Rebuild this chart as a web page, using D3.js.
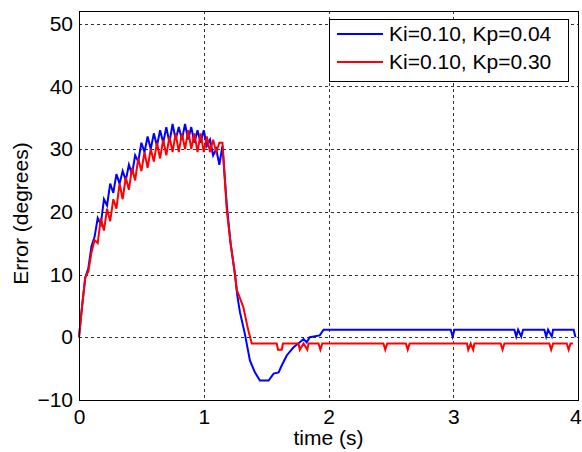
<!DOCTYPE html>
<html><head><meta charset="utf-8">
<script src="https://cdn.jsdelivr.net/npm/d3@7"></script>
<style>
html,body{margin:0;padding:0;background:#fff;}
text{font-family:"Liberation Sans",Arial,sans-serif;fill:#000;}
</style></head>
<body>
<svg id="c" width="582" height="452"></svg>
<script>
// ---- data ----
const xTicks = [0, 1, 2, 3, 4];
const yTicks = [-10, 0, 10, 20, 30, 40, 50];
const legendLabels = ["Ki=0.10, Kp=0.04", "Ki=0.10, Kp=0.30"];
const seriesColors = ["#0000ff", "#ff0000"];

const riseT = [0,0.025,0.05,0.075,0.1,0.125,0.15,0.175,0.2,0.225,0.25,0.275,0.3,0.325,0.35,0.375,0.4,0.425,0.45,0.475,0.5,0.525,0.55,0.575,0.6,0.625,0.65,0.675,0.7,0.725,0.75,0.775,0.8,0.825,0.85,0.875,0.9,0.925,0.95,0.975,1.0,1.025,1.05,1.075,1.1,1.125,1.15];
const blueRise = [0,5,9.5,11,14.5,16,19,18,22,21,24.5,23,26,24.5,26.5,25,27.5,26,29,28,31,29.5,32,30,32.5,30.5,33,31,33.5,31,34,31.5,33.5,31.5,34,31.5,33.5,31,33,31,33,30.5,31.5,29,30,27.5,30.5];
const redRise  = [0,5,9.5,10.5,13.5,15.5,15,19,17,20.5,18.5,22,20.5,24.5,22,25.5,23.5,27,25,28.5,26.5,29.5,27,30,28,31,28.5,31.5,29,32,29.5,32.5,29.5,32.5,30,33,30,32.5,29.5,32.5,29.5,32,29.5,31.5,29.5,31,31];

const blueTailT = [1.185,1.215,1.25,1.27,1.29,1.33,1.37,1.41,1.45,1.52,1.56,1.6,1.625,1.665,1.72,1.77,1.8,1.825,1.85,1.93,1.96,2.98,2.995,3.01,3.49,3.505,3.52,3.545,3.56,3.73,3.745,3.76,3.79,3.8,3.965,3.98];
const blueTailV = [21,15,10,6.5,4,0.5,-3.7,-5.6,-6.9,-6.9,-5.8,-5.6,-4.5,-2.9,-1.6,-0.8,-0.3,-0.8,0,0.3,1.2,1.2,0.1,1.2,1.2,0.1,1.2,0.1,1.2,1.2,0.1,1.2,0.1,1.2,1.2,0];

const redTailT = [1.185,1.215,1.25,1.265,1.285,1.317,1.357,1.385,1.585,1.595,1.625,1.635,1.76,1.77,1.8,1.83,1.84,1.92,1.935,1.95,2.44,2.455,2.47,2.62,2.635,2.65,3.11,3.12,3.14,3.16,3.17,3.38,3.395,3.41,3.77,3.785,3.8,3.91,3.925,3.94,3.96];
const redTailV = [20.2,15,10.2,7.5,6.5,4.8,1.1,-1,-1,-2,-2,-1,-1,-2,-1,-2,-1,-1,-2,-1,-1,-2,-1,-1,-2,-1,-1,-2,-1,-2,-1,-1,-2,-1,-1,-2,-1,-1,-2,-1,-1];

// ---- layout ----
const svg = d3.select("#c");
const L = 79, R = 578, T = 11, B = 400;
const x = d3.scaleLinear().domain([0, 4]).range([L, R]);
const y = d3.scaleLinear().domain([-10, 52]).range([B, T]);

// grid
const grid = svg.append("g").attr("stroke", "#333").attr("stroke-width", 1).attr("stroke-dasharray", "3,3");
xTicks.filter(d => d > 0 && d < 4).forEach(d => {
  grid.append("line").attr("x1", Math.round(x(d)) + 0.5).attr("x2", Math.round(x(d)) + 0.5).attr("y1", T).attr("y2", B);
});
yTicks.filter(d => d > -10).forEach(d => {
  grid.append("line").attr("x1", L).attr("x2", R).attr("y1", Math.round(y(d)) + 0.5).attr("y2", Math.round(y(d)) + 0.5);
});

// axes via d3
const xAxis = d3.axisBottom(x).tickValues(xTicks).tickSize(0).tickPadding(9).tickFormat(d3.format("d"));
const yAxis = d3.axisLeft(y).tickValues(yTicks).tickSize(0).tickPadding(6).tickFormat(d3.format("d"));
const gx = svg.append("g").attr("transform", `translate(0,${B})`).call(xAxis);
const gy = svg.append("g").attr("transform", `translate(${L},0)`).call(yAxis);
[gx, gy].forEach(g => {
  g.select(".domain").remove();
  g.selectAll("text").attr("font-size", 21).attr("font-family", "Liberation Sans, Arial, sans-serif").attr("fill", "#000");
});
// keep the last x tick label inside the window
gx.selectAll(".tick").filter(d => d === 4).select("text").attr("text-anchor", "end").attr("dx", "0.15em");

// lines
const line = d3.line().x(d => x(d[0])).y(d => y(d[1]));
const blueData = riseT.map((t, i) => [t, blueRise[i]]).concat(blueTailT.map((t, i) => [t, blueTailV[i]]));
const redData = riseT.map((t, i) => [t, redRise[i]]).concat(redTailT.map((t, i) => [t, redTailV[i]]));
const plot = svg.append("g");
[blueData, redData].forEach((d, i) => {
  plot.append("path").datum(d).attr("d", line).attr("fill", "none")
    .attr("stroke", seriesColors[i]).attr("stroke-width", 2).attr("stroke-linejoin", "miter");
});

// frame
svg.append("rect").attr("x", L + 0.5).attr("y", T + 0.5).attr("width", R - L).attr("height", B - T)
  .attr("fill", "none").attr("stroke", "#000").attr("stroke-width", 1);

// axis labels
svg.append("text").attr("x", (L + R) / 2).attr("y", 445).attr("text-anchor", "middle").attr("font-size", 21).text("time (s)");
svg.append("text").attr("transform", `translate(28,${(T + B) / 2 + 8}) rotate(-90)`).attr("text-anchor", "middle").attr("font-size", 21).text("Error (degrees)");

// legend
const lg = svg.append("g");
lg.append("rect").attr("x", 329.5).attr("y", 19.5).attr("width", 239).attr("height", 62).attr("fill", "#fff").attr("stroke", "#000");
legendLabels.forEach((lab, i) => {
  const yy = 34 + i * 28;
  lg.append("line").attr("x1", 337).attr("x2", 383).attr("y1", yy).attr("y2", yy).attr("stroke", seriesColors[i]).attr("stroke-width", 2);
  lg.append("text").attr("x", 389).attr("y", yy + 7).attr("font-size", 21).text(lab);
});
</script>
</body></html>
